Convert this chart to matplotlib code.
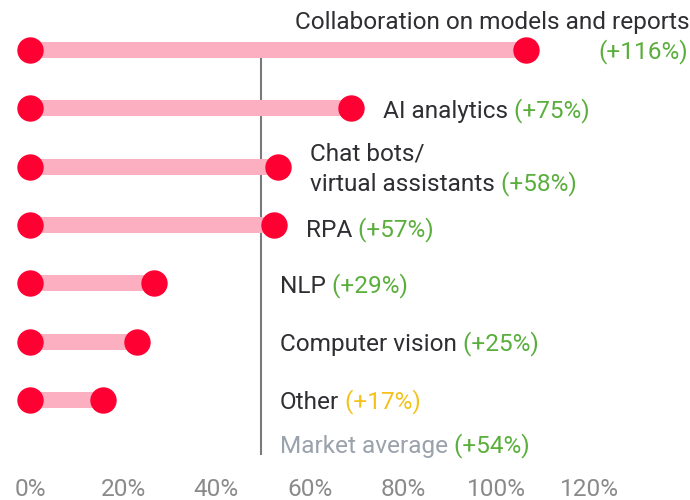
import matplotlib
matplotlib.use("Agg")
import matplotlib.pyplot as plt

# ---- data ----
categories = ["Collaboration on models and reports", "AI analytics",
              "Chat bots/\nvirtual assistants", "RPA", "NLP",
              "Computer vision", "Other"]
growth = [116, 75, 58, 57, 29, 25, 17]
growth_labels = ["(+116%)", "(+75%)", "(+58%)", "(+57%)", "(+29%)", "(+25%)", "(+17%)"]
label_colors = ["green", "green", "green", "green", "green", "green", "yellow"]
market_avg = 54
market_label = "Market average"
market_value_label = "(+54%)"
tick_values = [0, 20, 40, 60, 80, 100, 120]
tick_labels = ["0%", "20%", "40%", "60%", "80%", "100%", "120%"]

# ---- style ----
FONT = "Roboto"
plt.rcParams["font.family"] = [FONT, "DejaVu Sans"]
BAR = "#FBAFC0"
DOT = "#FF0033"
COLS = {"green": "#5AAE3C", "yellow": "#F5C21B"}
DARK = "#2E2E33"
GREY = "#9AA2AC"
FS = 17.6

W, H, DPI = 690, 500, 100
fig = plt.figure(figsize=(W / DPI, H / DPI), dpi=DPI)
ax = fig.add_axes([0, 0, 1, 1])

px_per_unit = 4.279
x0_px = 30
ax.set_xlim(-x0_px / px_per_unit, (W - x0_px) / px_per_unit)
row_px0, row_step = 50, 58.3
ax.set_ylim((H - row_px0) / row_step, -row_px0 / row_step)
ax.axis("off")

n = len(categories)
ys = list(range(n))

# market average line
ax.plot([market_avg, market_avg], [-0.1, 6.93], color="#7A7A7A", lw=1.5, zorder=1)

for y, v in zip(ys, growth):
    ax.plot([0, v], [y, y], color=BAR, lw=11.5, solid_capstyle="butt", zorder=2)
    ax.plot([0, v], [y, y], linestyle="none", marker="o", ms=18,
            color=DOT, zorder=3)

def two_color(x, y, name, val, val_color, ha="left", name_color=DARK):
    t = ax.text(x, y, name, ha=ha, va="center", fontsize=FS, color=name_color,
                linespacing=1.4)
    ax.annotate(" " + val, xy=(1, 0), xycoords=t, ha="left", va="bottom",
                fontsize=FS, color=val_color)
    return t

label_min_x = (280 - x0_px) / px_per_unit
for i, (y, v, name, val, c) in enumerate(zip(ys, growth, categories,
                                             growth_labels, label_colors)):
    if i == 0:
        # label too long for the space to the right: stack it at the right edge
        ax.text(1, y - 0.47, name, transform=ax.get_yaxis_transform(),
                ha="right", va="center", fontsize=FS, color=DARK)
        ax.text(0.998, y + 0.02, val, transform=ax.get_yaxis_transform(),
                ha="right", va="center", fontsize=FS, color=COLS[c])
    else:
        lx = max(v + 7.5, label_min_x)
        dy = 0.1 if i == 3 else 0.05
        two_color(lx, y + dy, name, val, COLS[c])

two_color(label_min_x, 6.8, market_label, market_value_label, COLS["green"],
          name_color=GREY)

# tick labels row (its own evenly spread scale)
ax2 = fig.add_axes([0, 1 - 478 / H, 1, 0.001])
ax2.set_xlim(-30 / 4.66, (W - 30) / 4.66)
ax2.set_xticks(tick_values)
ax2.set_xticklabels(tick_labels, fontsize=FS, color="#8A8A8A")
ax2.tick_params(axis="x", length=0, pad=0)
ax2.set_yticks([])
for s in ax2.spines.values():
    s.set_visible(False)
ax2.patch.set_alpha(0)

fig.savefig("out.png", dpi=DPI)
